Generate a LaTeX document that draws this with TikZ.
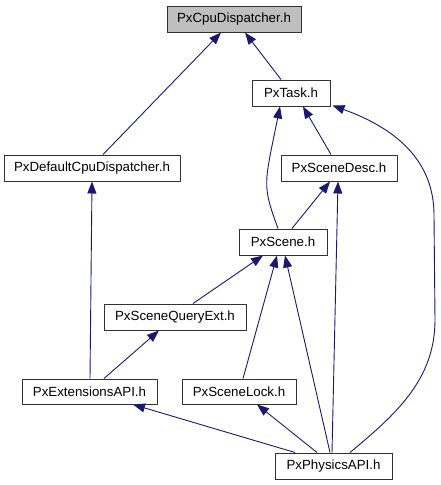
\documentclass[tikz,border=0pt]{standalone}
\usepackage{fontspec}
\setmainfont{Liberation Sans}
\usetikzlibrary{arrows.meta}
\definecolor{edgecol}{HTML}{191970}
\definecolor{hdrfill}{HTML}{BFBFBF}
\begin{document}
\begin{tikzpicture}[x=1pt,y=-1pt,
  box/.style={draw=black!80,line width=1pt,fill=white,inner sep=0pt,minimum height=26pt,font=\fontsize{13.3}{15}\selectfont},
  edge/.style={draw=edgecol,line width=0.9pt,-{Triangle[length=12pt,width=9pt]}}]
\useasboundingbox (0,0) rectangle (441,485);
\node[box,fill=hdrfill,minimum width=134pt] (cpu) at (234,19) {PxCpuDispatcher.h};
\node[box,minimum width=78pt] (task) at (291,93) {PxTask.h};
\node[box,minimum width=176pt] (defcpu) at (92,168) {PxDefaultCpuDispatcher.h};
\node[box,minimum width=116pt] (scenedesc) at (339,168) {PxSceneDesc.h};
\node[box,minimum width=88pt] (scene) at (283,242) {PxScene.h};
\node[box,minimum width=142pt] (sqe) at (175,317) {PxSceneQueryExt.h};
\node[box,minimum width=135pt,minimum height=25pt] (ext) at (89.5,391.5) {PxExtensionsAPI.h};
\node[box,minimum width=114pt,minimum height=25pt] (lock) at (239,391.5) {PxSceneLock.h};
\node[box,minimum width=117pt] (phys) at (333.5,466) {PxPhysicsAPI.h};

\draw[edge] ([xshift=11pt]defcpu.north) -- ([xshift=-13pt]cpu.south);
\draw[edge] ([xshift=-10pt]task.north) -- ([xshift=11pt]cpu.south);
\draw[edge] ([xshift=-5pt]scene.north) .. controls +(-16,-44) and +(-16,79) .. ([xshift=-11pt]task.south);
\draw[edge] ([xshift=-8pt]scenedesc.north) -- ([xshift=12pt]task.south);
\coordinate (r1) at (435,320);
\coordinate (r2) at (434,215);
\draw[edge] ([xshift=16.5pt]phys.north) .. controls (395,415) and (435,380) .. (r1) -- (r2) .. controls (434,160) and (395,128) .. ([xshift=2pt,yshift=1pt]task.south east);
\draw[edge] ([xshift=9pt]scene.north) -- ([xshift=-9pt]scenedesc.south);
\draw[edge] ([xshift=-1.5pt]phys.north) -- ([xshift=-1pt]scenedesc.south);
\draw[edge] ([xshift=0.5pt]ext.north) -- ([xshift=0pt]defcpu.south);
\draw[edge] ([xshift=18pt]sqe.north) -- ([xshift=-20pt]scene.south);
\draw[edge] ([xshift=4pt]lock.north) -- ([xshift=-6pt]scene.south);
\draw[edge] ([xshift=-3.5pt]phys.north) -- ([xshift=2pt]scene.south);
\draw[edge] ([xshift=14.5pt]ext.north) -- ([xshift=-16pt]sqe.south);
\draw[edge] ([xshift=-38.5pt]phys.north) -- ([xshift=43.5pt]ext.south);
\draw[edge] ([xshift=-16.5pt]phys.north) -- ([xshift=18pt]lock.south);
\end{tikzpicture}
\end{document}
